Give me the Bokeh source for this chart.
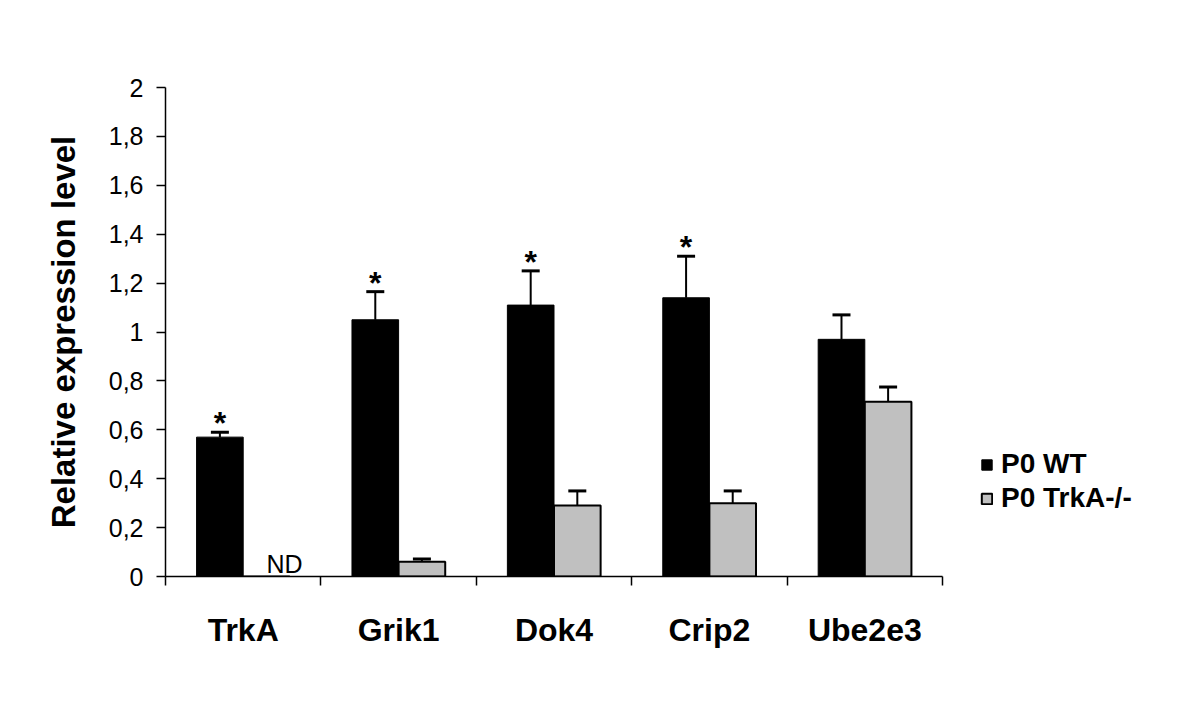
from bokeh.plotting import figure
from bokeh.models import (Range1d, FixedTicker, CustomJSTickFormatter, Whisker,
                          ColumnDataSource, Legend, LegendItem, TeeHead)
from bokeh.core.properties import value
from bokeh.embed import file_html
from bokeh.resources import INLINE

# ---- data ----
genes = ["TrkA", "Grik1", "Dok4", "Crip2", "Ube2e3"]
wt = [0.57, 1.05, 1.11, 1.14, 0.97]
wt_err = [0.02, 0.115, 0.14, 0.17, 0.10]
ko = [0.0, 0.06, 0.29, 0.30, 0.715]
ko_err = [0.0, 0.012, 0.06, 0.05, 0.06]
wt_sig = ["*", "*", "*", "*", ""]
ko_note = ["ND", "", "", "", ""]
series_names = ["P0 WT", "P0 TrkA-/-"]
y_ticks = [0, 0.2, 0.4, 0.6, 0.8, 1.0, 1.2, 1.4, 1.6, 1.8, 2.0]

FONT = "Liberation Sans"
BAR_W = 0.3
idx = list(range(len(genes)))
x_wt = [i + 0.5 - BAR_W / 2 for i in idx]
x_ko = [i + 0.5 + BAR_W / 2 for i in idx]

p = figure(width=1184, height=690, output_backend="svg", toolbar_location=None,
           x_range=Range1d(0, 5 * 1019 / 777), y_range=Range1d(0, 2),
           min_border_left=165, min_border_right=0, min_border_top=87,
           min_border_bottom=114)
p.outline_line_color = None
p.xgrid.visible = False
p.ygrid.visible = False
p.background_fill_color = "white"
p.border_fill_color = "white"

src_wt = ColumnDataSource(dict(x=x_wt, top=wt, err_top=[v + e for v, e in zip(wt, wt_err)], sig=wt_sig))
src_ko = ColumnDataSource(dict(x=x_ko, top=ko, err_top=[v + e for v, e in zip(ko, ko_err)], note=ko_note))

r_wt = p.vbar(x="x", top="top", bottom=0, width=BAR_W, source=src_wt,
              fill_color="black", line_color="black", line_width=1)
r_ko = p.vbar(x="x", top="top", bottom=0, width=BAR_W, source=src_ko,
              fill_color="#c0c0c0", line_color="black", line_width=2)

# error bars (upper only)
for xs, vals, errs in ((x_wt, wt, wt_err), (x_ko, ko, ko_err)):
    sel = [k for k in idx if errs[k] > 0]
    es = ColumnDataSource(dict(base=[xs[k] for k in sel], lower=[vals[k] for k in sel],
                               upper=[vals[k] + errs[k] for k in sel]))
    w = Whisker(source=es, base="base", lower="lower", upper="upper", dimension="height",
                line_color="black", line_width=2,
                upper_head=TeeHead(size=18, line_width=3, line_color="black"),
                lower_head=None, level="glyph")
    p.add_layout(w)

# significance stars
p.text(x="x", y="err_top", text="sig", source=src_wt, text_align="center",
       text_baseline="alphabetic", y_offset=-9, text_font=value(FONT),
       text_font_size="32px", text_font_style="bold", text_color="black")
# ND note
p.text(x="x", y=0, text="note", source=src_ko, text_align="left",
       text_baseline="alphabetic", y_offset=-13, text_font=value(FONT),
       text_font_size="25px", text_color="black")

# axes
xa = p.xaxis[0]
xa.ticker = FixedTicker(ticks=[i + 0.5 for i in idx], minor_ticks=list(range(len(genes) + 1)))
xa.formatter = CustomJSTickFormatter(args=dict(labels=genes),
                                     code="return labels[Math.floor(tick)] || '';")
xa.bounds = (0, len(genes))
xa.major_tick_out = 0
xa.major_tick_in = 0
xa.minor_tick_out = 9
xa.minor_tick_in = 0
xa.minor_tick_line_color = "black"
xa.minor_tick_line_width = 1.5
xa.axis_line_color = "black"
xa.axis_line_width = 1.5
xa.major_label_standoff = 26
xa.major_label_text_font = FONT
xa.major_label_text_font_size = "32px"
xa.major_label_text_font_style = "bold"
xa.major_label_text_color = "black"

ya = p.yaxis[0]
ya.ticker = FixedTicker(ticks=y_ticks, minor_ticks=[])
ya.formatter = CustomJSTickFormatter(
    code="const s = (Math.round(tick*10)/10).toString(); return s.replace('.', ',');")
ya.major_tick_out = 9
ya.major_tick_in = 0
ya.minor_tick_out = 0
ya.minor_tick_in = 0
ya.major_tick_line_color = "black"
ya.major_tick_line_width = 1.5
ya.axis_line_color = "black"
ya.axis_line_width = 1.5
ya.major_label_standoff = 13
ya.major_label_text_font = FONT
ya.major_label_text_font_size = "25px"
ya.major_label_text_color = "black"
ya.axis_label = "Relative expression level"
ya.axis_label_text_font = FONT
ya.axis_label_text_font_size = "33px"
ya.axis_label_text_font_style = "bold"
ya.axis_label_text_color = "black"
ya.axis_label_standoff = 24

legend = Legend(items=[LegendItem(label=series_names[0], renderers=[r_wt]),
                       LegendItem(label=series_names[1], renderers=[r_ko])],
                location=(815, 62), orientation="vertical",
                glyph_width=13, glyph_height=13, label_standoff=8, spacing=2,
                padding=0, margin=0, border_line_color=None,
                background_fill_alpha=0,
                label_text_font=FONT, label_text_font_size="28px",
                label_text_font_style="bold", label_text_color="black")
p.add_layout(legend, "center")

open("out.html", "w").write(file_html(p, INLINE))
